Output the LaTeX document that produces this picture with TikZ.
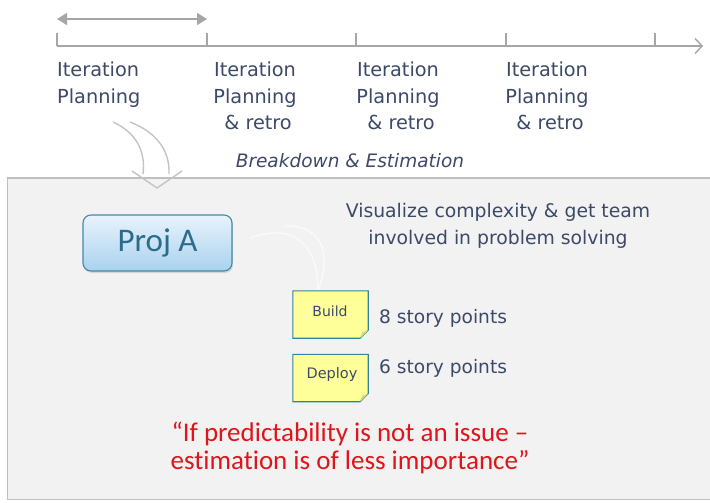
\documentclass[tikz,border=0pt]{standalone}
\usepackage{fontspec}
\setmainfont{DejaVu Sans}
\newfontfamily\calib[Ligatures=NoCommon]{Carlito}
\usetikzlibrary{arrows.meta,shadows}
\definecolor{txt}{HTML}{3C4A68}
\definecolor{axisgray}{HTML}{A6A6A6}
\definecolor{panelbg}{HTML}{F2F2F2}
\definecolor{panelborder}{HTML}{BFBFBF}
\definecolor{curvegray}{HTML}{C4C4C4}
\definecolor{projtop}{HTML}{E8F3FC}
\definecolor{projbot}{HTML}{A9D2EE}
\definecolor{projedge}{HTML}{3F8BA8}
\definecolor{projtxt}{HTML}{2C6B8C}
\definecolor{noteyellow}{HTML}{FFFF99}
\definecolor{notefold}{HTML}{D9D97A}
\definecolor{noteedge}{HTML}{31849B}
\definecolor{quotered}{HTML}{E0141B}
\tikzset{
  axisline/.style={draw=axisgray, line width=1.6pt},
  ticks/.style={draw=axisgray, line width=1.3pt},
  lbl/.style={text=txt, inner sep=0pt, font=\fontsize{19.3}{26.5}\selectfont},
  curvearrow/.style={draw=curvegray, line width=1.4pt},
  projbox/.style={draw=projedge, line width=1.1pt, rounded corners=8pt, top color=projtop, bottom color=projbot,
     minimum width=149pt, minimum height=56pt, text=projtxt, font=\calib\fontsize{33}{33}\selectfont,
     drop shadow={shadow xshift=1pt, shadow yshift=-2pt, opacity=0.25}},
  notebox/.style={minimum width=75pt, minimum height=47pt, inner sep=0pt, text=txt},
  noteshape/.style={draw=noteedge, line width=1.1pt, fill=noteyellow},
  quote/.style={text=quotered, inner sep=0pt, align=center, font=\calib\fontsize{27}{28}\selectfont},
}
\begin{document}
\begin{tikzpicture}[x=1pt,y=-1pt]
\useasboundingbox (0,0) rectangle (710,503);
\fill[white] (0,0) rectangle (710,503);
% panel
\fill[panelbg] (7.5,178) rectangle (710,499.5);
\draw[draw=panelborder, line width=1.6pt] (710,178) -- (7.5,178) -- (7.5,499.5) -- (710,499.5);

% timeline
\coordinate (t0) at (57,46);
\coordinate (t1) at (207,46);
\coordinate (t2) at (356,46);
\coordinate (t3) at (506,46);
\coordinate (t4) at (655,46);
\coordinate (tend) at (703,46);
\draw[axisline, -{Straight Barb[length=7pt,width=15pt,line width=1.4pt]}] (t0) -- (tend);
\foreach \t in {t0,t1,t2,t3,t4} \draw[ticks] (\t) -- ++(0,-13);
\coordinate (d0) at (57,19);
\coordinate (d1) at (207,19);
\draw[axisline, {Triangle[length=10pt,width=12pt]}-{Triangle[length=10pt,width=12pt]}] (d0) -- (d1);

% labels
\node[lbl, anchor=north west, align=left] (l1) at (57,62) {Iteration\\Planning};
\node[lbl, anchor=north, align=center] (l2) at (255,62) {Iteration\\Planning\\\ \& retro};
\node[lbl, anchor=north, align=center] (l3) at (398,62) {Iteration\\Planning\\\ \& retro};
\node[lbl, anchor=north, align=center] (l4) at (547,62) {Iteration\\Planning\\\ \& retro};

\node[lbl, font=\itshape\fontsize{18.5}{22}\selectfont] (bd) at (350,161) {Breakdown \& Estimation};

% curved arrows
\coordinate (c1s) at (113,122);
\coordinate (c1e) at (143,174);
\coordinate (c2s) at (130,122);
\coordinate (c2e) at (169,174);
\draw[curvearrow] (c1s) .. controls (135,132) and (146,150) .. (c1e);
\draw[curvearrow] (c2s) .. controls (156,132) and (170,150) .. (c2e);
\coordinate (chl) at (132,171);
\coordinate (cht) at (157,188);
\coordinate (chr) at (182,171);
\draw[curvearrow] (chl) -- (cht) -- (chr);

% faint curves
\coordinate (f0) at (250,238);
\coordinate (f1) at (318,291);
\draw[white!60!panelbg, line width=1.4pt] (f0) .. controls (295,222) and (318,245) .. (f1);
\draw[white!60!panelbg, line width=1.4pt] (285,226) .. controls (320,225) and (333,250) .. (f1);

% Proj A
\node[projbox] (proj) at (157.5,243) {Proj A};

% notes
\node[notebox] (build) at (330.5,314.5) {};
\node[notebox] (deploy) at (330.5,378) {};
\foreach \n in {build,deploy}{
  \draw[noteshape] (\n.north west) -- (\n.north east) -- ([yshift=8pt]\n.south east) -- ([xshift=-8pt]\n.south east) -- (\n.south west) -- cycle;
  \fill[notefold] ([yshift=8pt]\n.south east) -- ([xshift=-8pt]\n.south east) -- ([xshift=-6pt,yshift=6pt]\n.south east) -- cycle;
}
\node[text=txt, font=\fontsize{14}{14}\selectfont] (buildt) at (330,311) {Build};
\node[text=txt, font=\fontsize{14.5}{14.5}\selectfont] (deployt) at (332,374) {Deploy};

\node[lbl, anchor=west, font=\fontsize{18.6}{22}\selectfont] (sp8) at (379,318) {8 story points};
\node[lbl, anchor=west, font=\fontsize{18.6}{22}\selectfont] (sp6) at (379,368) {6 story points};

\node[lbl, align=center, font=\fontsize{18.8}{26.5}\selectfont] (vis) at (498,226) {Visualize complexity \& get team\\involved in problem solving};

\node[quote] (q) at (350,447.5) {“If predictability is not an issue –\\estimation is of less importance”};
\end{tikzpicture}
\end{document}
